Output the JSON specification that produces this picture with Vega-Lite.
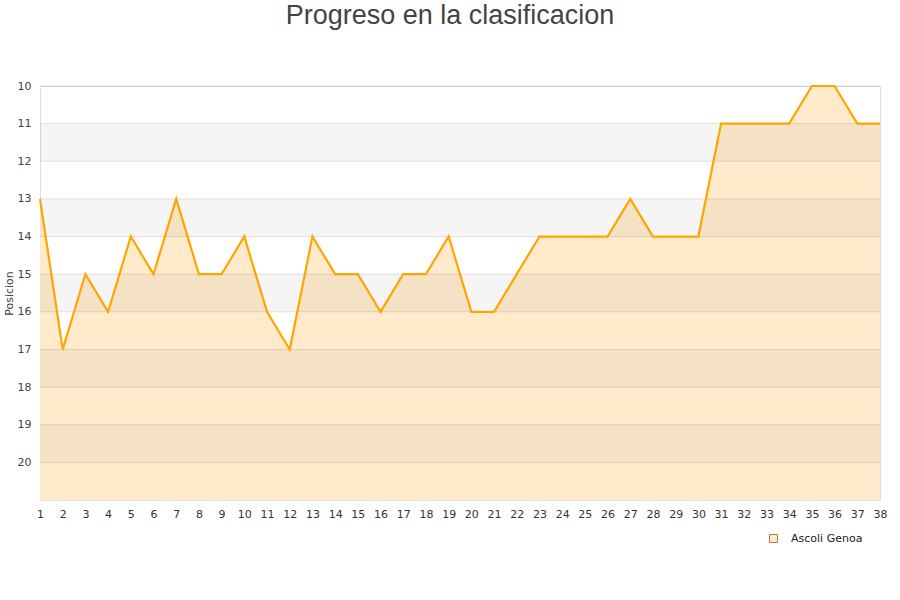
{
  "$schema": "https://vega.github.io/schema/vega-lite/v6.json",
  "width": 840,
  "height": 414,
  "autosize": {"type": "none"},
  "padding": {"left": 40, "top": 86, "right": 20, "bottom": 100},
  "background": "white",
  "config": {
    "view": {"stroke": "#dddddd"},
    "font": "DejaVu Sans",
    "axis": {"labelOverlap": false}
  },
  "title": {
    "text": "Progreso en la clasificacion",
    "font": "Liberation Sans",
    "fontSize": 27,
    "fontWeight": "normal",
    "color": "#444444",
    "anchor": "middle",
    "frame": "group",
    "dx": -10,
    "offset": 50
  },
  "datasets": {
    "bands": [
      {"y0": 11, "y1": 12},
      {"y0": 13, "y1": 14},
      {"y0": 15, "y1": 16},
      {"y0": 17, "y1": 18},
      {"y0": 19, "y1": 20}
    ],
    "grid": [
      {"nivel": 10}, {"nivel": 11}, {"nivel": 12}, {"nivel": 13}, {"nivel": 14}, {"nivel": 15},
      {"nivel": 16}, {"nivel": 17}, {"nivel": 18}, {"nivel": 19}, {"nivel": 20}
    ],
    "pos": [
      {"jornada": 1, "posicion": 13, "equipo": "Ascoli Genoa"},
      {"jornada": 2, "posicion": 17, "equipo": "Ascoli Genoa"},
      {"jornada": 3, "posicion": 15, "equipo": "Ascoli Genoa"},
      {"jornada": 4, "posicion": 16, "equipo": "Ascoli Genoa"},
      {"jornada": 5, "posicion": 14, "equipo": "Ascoli Genoa"},
      {"jornada": 6, "posicion": 15, "equipo": "Ascoli Genoa"},
      {"jornada": 7, "posicion": 13, "equipo": "Ascoli Genoa"},
      {"jornada": 8, "posicion": 15, "equipo": "Ascoli Genoa"},
      {"jornada": 9, "posicion": 15, "equipo": "Ascoli Genoa"},
      {"jornada": 10, "posicion": 14, "equipo": "Ascoli Genoa"},
      {"jornada": 11, "posicion": 16, "equipo": "Ascoli Genoa"},
      {"jornada": 12, "posicion": 17, "equipo": "Ascoli Genoa"},
      {"jornada": 13, "posicion": 14, "equipo": "Ascoli Genoa"},
      {"jornada": 14, "posicion": 15, "equipo": "Ascoli Genoa"},
      {"jornada": 15, "posicion": 15, "equipo": "Ascoli Genoa"},
      {"jornada": 16, "posicion": 16, "equipo": "Ascoli Genoa"},
      {"jornada": 17, "posicion": 15, "equipo": "Ascoli Genoa"},
      {"jornada": 18, "posicion": 15, "equipo": "Ascoli Genoa"},
      {"jornada": 19, "posicion": 14, "equipo": "Ascoli Genoa"},
      {"jornada": 20, "posicion": 16, "equipo": "Ascoli Genoa"},
      {"jornada": 21, "posicion": 16, "equipo": "Ascoli Genoa"},
      {"jornada": 22, "posicion": 15, "equipo": "Ascoli Genoa"},
      {"jornada": 23, "posicion": 14, "equipo": "Ascoli Genoa"},
      {"jornada": 24, "posicion": 14, "equipo": "Ascoli Genoa"},
      {"jornada": 25, "posicion": 14, "equipo": "Ascoli Genoa"},
      {"jornada": 26, "posicion": 14, "equipo": "Ascoli Genoa"},
      {"jornada": 27, "posicion": 13, "equipo": "Ascoli Genoa"},
      {"jornada": 28, "posicion": 14, "equipo": "Ascoli Genoa"},
      {"jornada": 29, "posicion": 14, "equipo": "Ascoli Genoa"},
      {"jornada": 30, "posicion": 14, "equipo": "Ascoli Genoa"},
      {"jornada": 31, "posicion": 11, "equipo": "Ascoli Genoa"},
      {"jornada": 32, "posicion": 11, "equipo": "Ascoli Genoa"},
      {"jornada": 33, "posicion": 11, "equipo": "Ascoli Genoa"},
      {"jornada": 34, "posicion": 11, "equipo": "Ascoli Genoa"},
      {"jornada": 35, "posicion": 10, "equipo": "Ascoli Genoa"},
      {"jornada": 36, "posicion": 10, "equipo": "Ascoli Genoa"},
      {"jornada": 37, "posicion": 11, "equipo": "Ascoli Genoa"},
      {"jornada": 38, "posicion": 11, "equipo": "Ascoli Genoa"}
    ]
  },
  "layer": [
    {
      "data": {"name": "pos"},
      "mark": {"type": "area", "opacity": 1, "line": false},
      "encoding": {
        "x": {
          "field": "jornada",
          "type": "quantitative",
          "scale": {"domain": [1, 38], "nice": false, "zero": false},
          "axis": {
            "title": null,
            "values": [1,2,3,4,5,6,7,8,9,10,11,12,13,14,15,16,17,18,19,20,21,22,23,24,25,26,27,28,29,30,31,32,33,34,35,36,37,38],
            "tickCount": 38,
            "format": "d",
            "grid": false,
            "ticks": false,
            "domain": false,
            "labelFontSize": 11,
            "labelColor": "#333333",
            "labelPadding": 8,
            "labelOverlap": false,
            "labelFlush": false
          }
        },
        "y": {
          "field": "posicion",
          "type": "quantitative",
          "scale": {"domain": [10, 21], "reverse": true, "nice": false, "zero": false},
          "axis": {
            "title": "Posicion",
            "titleFontSize": 11,
            "titleFontWeight": "normal",
            "titleColor": "#444444",
            "titlePadding": 3,
            "values": [10,11,12,13,14,15,16,17,18,19,20],
            "tickCount": 11,
            "labelOverlap": false,
            "grid": false,
            "ticks": false,
            "domain": false,
            "labelFontSize": 11,
            "labelColor": "#444444",
            "labelPadding": 9
          }
        },
        "y2": {"datum": 21},
        "fill": {
          "field": "equipo",
          "type": "nominal",
          "scale": {"range": ["#ffebcc"]},
          "legend": {
            "title": null,
            "orient": "none",
            "legendX": 728,
            "legendY": 447,
            "symbolType": "square",
            "symbolSize": 64,
            "symbolOpacity": 1,
            "symbolStrokeColor": "#a08050",
            "symbolStrokeWidth": 1,
            "labelFont": "DejaVu Sans",
            "labelFontSize": 11,
            "labelColor": "#222222",
            "labelOffset": 12
          }
        }
      }
    },
    {
      "data": {"name": "bands"},
      "mark": {"type": "rect", "fill": "#000000", "opacity": 0.04},
      "encoding": {
        "y": {"field": "y0", "type": "quantitative"},
        "y2": {"field": "y1"}
      }
    },
    {
      "data": {"name": "grid"},
      "mark": {"type": "rule", "stroke": "#000000", "strokeOpacity": 0.11, "strokeWidth": 1},
      "encoding": {
        "y": {"field": "nivel", "type": "quantitative"}
      }
    },
    {
      "data": {"name": "pos"},
      "mark": {"type": "line", "stroke": "#ffa500", "strokeWidth": 2.2},
      "encoding": {
        "x": {"field": "jornada", "type": "quantitative"},
        "y": {"field": "posicion", "type": "quantitative"}
      }
    }
  ]
}
